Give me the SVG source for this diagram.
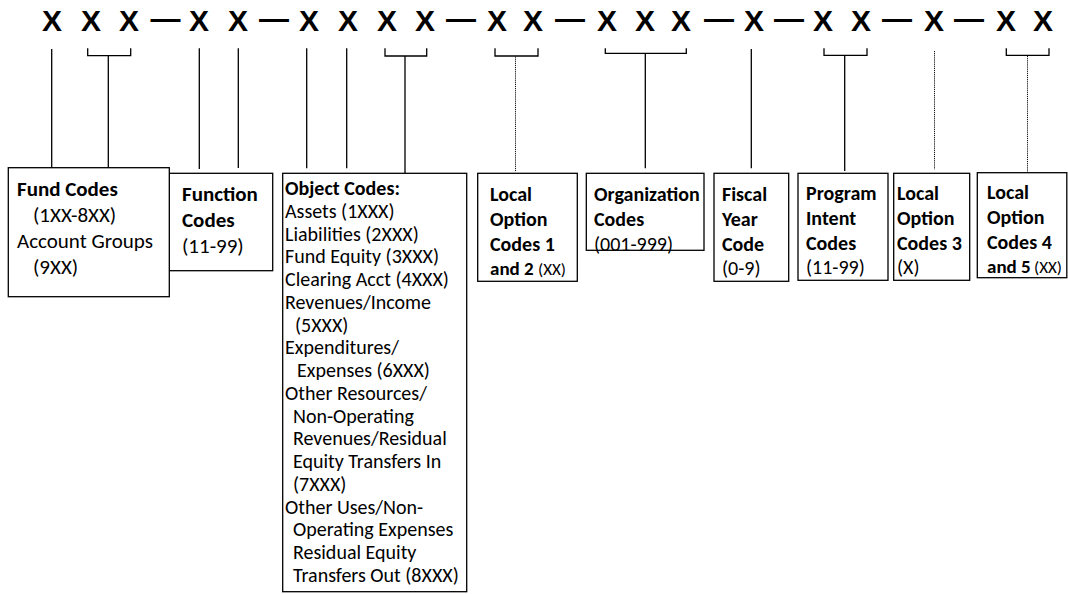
<svg xmlns="http://www.w3.org/2000/svg" width="1068" height="594" viewBox="0 0 1068 594">
<style>
.x{font-family:"Liberation Sans",Arial,sans-serif;font-weight:bold;font-size:30px;fill:#000;text-anchor:middle}
.t{font-family:Carlito,Calibri,Lato,sans-serif;font-size:20px;fill:#000}
.f{font-size:21px}
.m{font-size:19px}
.s{font-size:17px}
.b{font-weight:bold}
.box{fill:#fff;stroke:#000;stroke-width:1.3}
.ln{fill:none;stroke:#000;stroke-width:1.3}
.dot{fill:none;stroke:#111;stroke-width:1;stroke-dasharray:1.2 0.9}
</style>
<rect width="1068" height="594" fill="#fff"/>
<g id="code">
<text class="x" x="52" y="31">X</text>
<text class="x" x="91" y="31">X</text>
<text class="x" x="129" y="31">X</text>
<text class="x" x="165.5" y="29">—</text>
<text class="x" x="199" y="31">X</text>
<text class="x" x="238" y="31">X</text>
<text class="x" x="274" y="29">—</text>
<text class="x" x="309" y="31">X</text>
<text class="x" x="348" y="31">X</text>
<text class="x" x="387" y="31">X</text>
<text class="x" x="425" y="31">X</text>
<text class="x" x="461" y="29">—</text>
<text class="x" x="497" y="31">X</text>
<text class="x" x="533" y="31">X</text>
<text class="x" x="570" y="29">—</text>
<text class="x" x="607" y="31">X</text>
<text class="x" x="645" y="31">X</text>
<text class="x" x="681" y="31">X</text>
<text class="x" x="719" y="29">—</text>
<text class="x" x="754" y="31">X</text>
<text class="x" x="789" y="29">—</text>
<text class="x" x="823" y="31">X</text>
<text class="x" x="861" y="31">X</text>
<text class="x" x="897" y="29">—</text>
<text class="x" x="934" y="31">X</text>
<text class="x" x="969" y="29">—</text>
<text class="x" x="1006" y="31">X</text>
<text class="x" x="1043" y="31">X</text>
</g>
<g id="connectors">
<path class="ln" d="M51.7,49V168"/>
<path class="ln" d="M87.7,48.3V55.7H130.7V48.3M108.3,55.7V168"/>
<path class="ln" d="M199.3,48.3V169M238.3,48.3V168"/>
<path class="ln" d="M306.7,48.3V168.3M346.7,48.3V168.3"/>
<path class="ln" d="M385,48.3V56H426.7V48.3M405,56V173"/>
<path class="ln" d="M495,48.3V56H538V48.3"/>
<path class="dot" d="M515.5,56.5V172"/>
<path class="ln" d="M605.3,48.3V53.3H686.3V48.3M645.3,53.3V168.3"/>
<path class="ln" d="M751.3,49V168.3"/>
<path class="ln" d="M824,48.3V55.3H867V48.3M844.7,55.3V171"/>
<path class="dot" d="M934.5,51V169.3"/>
<path class="ln" d="M1006.3,48.3V55.3H1049V48.3"/>
<path class="dot" d="M1027.5,56V172"/>
</g>
<g id="function">
<rect class="box" x="169.3" y="173.3" width="103.4" height="97.4"/>
<text class="t f b" x="182" y="201">Function</text>
<text class="t f b" x="182" y="227">Codes</text>
<text class="t f" x="182" y="253">(11-99)</text>
</g>
<g id="fund">
<rect class="box" x="8.3" y="167.7" width="161" height="129"/>
<text class="t f b" x="17" y="196">Fund Codes</text>
<text class="t f" x="33" y="222">(1XX-8XX)</text>
<text class="t f" x="17" y="248">Account Groups</text>
<text class="t f" x="33" y="274">(9XX)</text>
</g>
<g id="object">
<rect class="box" x="282.7" y="173.3" width="184" height="418.4"/>
<text class="t b" x="285" y="195">Object Codes:</text>
<text class="t" x="285" y="217.75">Assets (1XXX)</text>
<text class="t" x="285" y="240.5">Liabilities (2XXX)</text>
<text class="t" x="285" y="263.25">Fund Equity (3XXX)</text>
<text class="t" x="285" y="286">Clearing Acct (4XXX)</text>
<text class="t" x="285" y="308.75">Revenues/Income</text>
<text class="t" x="295" y="331.5">(5XXX)</text>
<text class="t" x="285" y="354.25">Expenditures/</text>
<text class="t" x="297" y="377">Expenses (6XXX)</text>
<text class="t" x="285" y="399.75">Other Resources/</text>
<text class="t" x="293" y="422.5">Non-Operating</text>
<text class="t" x="293" y="445.25">Revenues/Residual</text>
<text class="t" x="293" y="468">Equity Transfers In</text>
<text class="t" x="293" y="490.75">(7XXX)</text>
<text class="t" x="285" y="513.5">Other Uses/Non-</text>
<text class="t" x="293" y="536.25">Operating Expenses</text>
<text class="t" x="293" y="559">Residual Equity</text>
<text class="t" x="293" y="581.75">Transfers Out (8XXX)</text>
</g>
<g id="local12">
<rect class="box" x="477.7" y="173.3" width="99.6" height="108"/>
<text class="t b" x="490" y="201">Local</text>
<text class="t b" x="490" y="226">Option</text>
<text class="t b" x="490" y="251">Codes 1</text>
<text class="t m b" x="490" y="275">and 2</text>
<text class="t s" x="538" y="275">(XX)</text>
</g>
<g id="organization">
<rect class="box" x="586.3" y="173.3" width="117.7" height="77"/>
<text class="t b" x="594" y="201">Organization</text>
<text class="t b" x="594" y="226">Codes</text>
<text class="t" x="594" y="251">(001-999)</text>
</g>
<g id="fiscal">
<rect class="box" x="714" y="173.3" width="74.7" height="108"/>
<text class="t b" x="722" y="201">Fiscal</text>
<text class="t b" x="722" y="226">Year</text>
<text class="t b" x="722" y="251">Code</text>
<text class="t" x="722" y="275">(0-9)</text>
</g>
<g id="program">
<rect class="box" x="798" y="173.3" width="90" height="107"/>
<text class="t b" x="806" y="200">Program</text>
<text class="t b" x="806" y="225">Intent</text>
<text class="t b" x="806" y="250">Codes</text>
<text class="t" x="806" y="274">(11-99)</text>
</g>
<g id="local3">
<rect class="box" x="893.7" y="173.3" width="76" height="107"/>
<text class="t b" x="897" y="200">Local</text>
<text class="t b" x="897" y="225">Option</text>
<text class="t b" x="897" y="250">Codes 3</text>
<text class="t" x="897" y="274">(X)</text>
</g>
<g id="local45">
<rect class="box" x="977.3" y="172.7" width="89.5" height="105"/>
<text class="t b" x="987" y="199">Local</text>
<text class="t b" x="987" y="224">Option</text>
<text class="t b" x="987" y="249">Codes 4</text>
<text class="t m b" x="987" y="273">and 5</text>
<text class="t s" x="1034" y="273">(XX)</text>
</g>
</svg>
